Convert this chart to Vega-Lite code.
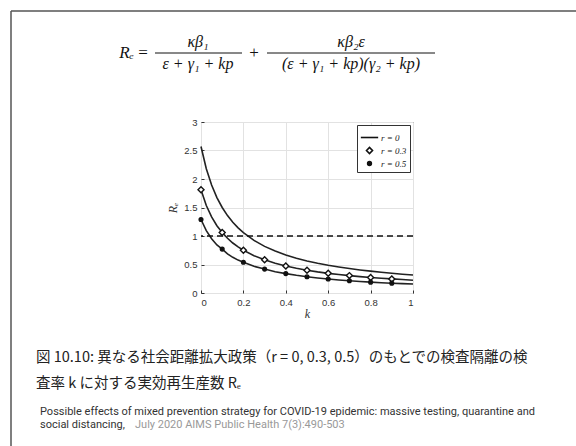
{
  "$schema": "https://vega.github.io/schema/vega-lite/v6.json",
  "autosize": {"type": "none"},
  "padding": {"left": 201, "top": 122, "right": 163, "bottom": 153},
  "width": 212,
  "height": 171,
  "background": "white",
  "config": {
    "view": {"stroke": "#333", "strokeWidth": 1},
    "axis": {
      "labelFont": "Liberation Sans", "labelFontSize": 9.5, "labelColor": "#333", "labelOverlap": false, "format": "~g",
      "domain": false, "tickColor": "#333", "gridColor": "#e2e2e2", "gridWidth": 1,
      "titleFont": "Liberation Serif", "titleFontStyle": "italic", "titleFontWeight": "normal", "titleFontSize": 12, "titleColor": "#333"
    }
  },
  "datasets": {
    "curves": [
      {"k": 0, "Re": 2.57, "r": "0"}, {"k": 0.025, "Re": 2.18, "r": "0"}, {"k": 0.05, "Re": 1.895, "r": "0"}, {"k": 0.075, "Re": 1.674, "r": "0"},
      {"k": 0.1, "Re": 1.5, "r": "0"}, {"k": 0.125, "Re": 1.358, "r": "0"}, {"k": 0.15, "Re": 1.241, "r": "0"}, {"k": 0.175, "Re": 1.143, "r": "0"},
      {"k": 0.2, "Re": 1.059, "r": "0"}, {"k": 0.25, "Re": 0.923, "r": "0"}, {"k": 0.3, "Re": 0.818, "r": "0"}, {"k": 0.35, "Re": 0.735, "r": "0"},
      {"k": 0.4, "Re": 0.667, "r": "0"}, {"k": 0.45, "Re": 0.61, "r": "0"}, {"k": 0.5, "Re": 0.5625, "r": "0"}, {"k": 0.55, "Re": 0.522, "r": "0"},
      {"k": 0.6, "Re": 0.486, "r": "0"}, {"k": 0.65, "Re": 0.456, "r": "0"}, {"k": 0.7, "Re": 0.429, "r": "0"}, {"k": 0.75, "Re": 0.404, "r": "0"},
      {"k": 0.8, "Re": 0.383, "r": "0"}, {"k": 0.85, "Re": 0.364, "r": "0"}, {"k": 0.9, "Re": 0.346, "r": "0"}, {"k": 0.95, "Re": 0.33, "r": "0"},
      {"k": 1, "Re": 0.316, "r": "0"},
      {"k": 0, "Re": 1.81, "r": "0.3"}, {"k": 0.025, "Re": 1.535, "r": "0.3"}, {"k": 0.05, "Re": 1.335, "r": "0.3"}, {"k": 0.075, "Re": 1.18, "r": "0.3"},
      {"k": 0.1, "Re": 1.06, "r": "0.3"}, {"k": 0.125, "Re": 0.96, "r": "0.3"}, {"k": 0.15, "Re": 0.877, "r": "0.3"}, {"k": 0.175, "Re": 0.808, "r": "0.3"},
      {"k": 0.2, "Re": 0.75, "r": "0.3"}, {"k": 0.25, "Re": 0.655, "r": "0.3"}, {"k": 0.3, "Re": 0.585, "r": "0.3"}, {"k": 0.35, "Re": 0.523, "r": "0.3"},
      {"k": 0.4, "Re": 0.475, "r": "0.3"}, {"k": 0.45, "Re": 0.434, "r": "0.3"}, {"k": 0.5, "Re": 0.4, "r": "0.3"}, {"k": 0.55, "Re": 0.37, "r": "0.3"},
      {"k": 0.6, "Re": 0.345, "r": "0.3"}, {"k": 0.65, "Re": 0.324, "r": "0.3"}, {"k": 0.7, "Re": 0.305, "r": "0.3"}, {"k": 0.75, "Re": 0.288, "r": "0.3"},
      {"k": 0.8, "Re": 0.272, "r": "0.3"}, {"k": 0.85, "Re": 0.259, "r": "0.3"}, {"k": 0.9, "Re": 0.247, "r": "0.3"}, {"k": 0.95, "Re": 0.236, "r": "0.3"},
      {"k": 1, "Re": 0.225, "r": "0.3"},
      {"k": 0, "Re": 1.29, "r": "0.5"}, {"k": 0.025, "Re": 1.095, "r": "0.5"}, {"k": 0.05, "Re": 0.952, "r": "0.5"}, {"k": 0.075, "Re": 0.843, "r": "0.5"},
      {"k": 0.1, "Re": 0.77, "r": "0.5"}, {"k": 0.125, "Re": 0.685, "r": "0.5"}, {"k": 0.15, "Re": 0.626, "r": "0.5"}, {"k": 0.175, "Re": 0.577, "r": "0.5"},
      {"k": 0.2, "Re": 0.54, "r": "0.5"}, {"k": 0.25, "Re": 0.468, "r": "0.5"}, {"k": 0.3, "Re": 0.42, "r": "0.5"}, {"k": 0.35, "Re": 0.372, "r": "0.5"},
      {"k": 0.4, "Re": 0.34, "r": "0.5"}, {"k": 0.45, "Re": 0.31, "r": "0.5"}, {"k": 0.5, "Re": 0.285, "r": "0.5"}, {"k": 0.55, "Re": 0.263, "r": "0.5"},
      {"k": 0.6, "Re": 0.245, "r": "0.5"}, {"k": 0.65, "Re": 0.229, "r": "0.5"}, {"k": 0.7, "Re": 0.215, "r": "0.5"}, {"k": 0.75, "Re": 0.202, "r": "0.5"},
      {"k": 0.8, "Re": 0.19, "r": "0.5"}, {"k": 0.85, "Re": 0.18, "r": "0.5"}, {"k": 0.9, "Re": 0.172, "r": "0.5"}, {"k": 0.95, "Re": 0.165, "r": "0.5"},
      {"k": 1, "Re": 0.158, "r": "0.5"}
    ],
    "markers": [
      {"k": 0, "Re": 1.81, "r": "0.3"}, {"k": 0.1, "Re": 1.06, "r": "0.3"}, {"k": 0.2, "Re": 0.75, "r": "0.3"}, {"k": 0.3, "Re": 0.585, "r": "0.3"},
      {"k": 0.4, "Re": 0.475, "r": "0.3"}, {"k": 0.5, "Re": 0.4, "r": "0.3"}, {"k": 0.6, "Re": 0.345, "r": "0.3"}, {"k": 0.7, "Re": 0.305, "r": "0.3"},
      {"k": 0.8, "Re": 0.272, "r": "0.3"}, {"k": 0.9, "Re": 0.247, "r": "0.3"},
      {"k": 0, "Re": 1.29, "r": "0.5"}, {"k": 0.1, "Re": 0.77, "r": "0.5"}, {"k": 0.2, "Re": 0.54, "r": "0.5"}, {"k": 0.3, "Re": 0.42, "r": "0.5"},
      {"k": 0.4, "Re": 0.34, "r": "0.5"}, {"k": 0.5, "Re": 0.285, "r": "0.5"}, {"k": 0.6, "Re": 0.245, "r": "0.5"}, {"k": 0.7, "Re": 0.215, "r": "0.5"},
      {"k": 0.8, "Re": 0.19, "r": "0.5"}, {"k": 0.9, "Re": 0.172, "r": "0.5"}
    ]
  },
  "resolve": {"scale": {"x": "independent", "y": "independent"}},
  "layer": [
    {
      "encoding": {
        "x": {"type": "quantitative", "scale": {"domain": [0, 1], "nice": false},
              "axis": {"values": [0, 0.2, 0.4, 0.6, 0.8, 1], "title": "k", "tickSize": -3, "labelPadding": 7, "titlePadding": 2}},
        "y": {"type": "quantitative", "scale": {"domain": [0, 3], "nice": false},
              "axis": {"values": [0, 0.5, 1, 1.5, 2, 2.5, 3], "tickCount": 7, "title": "Rₑ", "tickSize": -3, "labelPadding": 7, "titlePadding": 4}}
      },
      "layer": [
        {
          "data": {"name": "curves"},
          "mark": {"type": "line", "stroke": "#222", "strokeWidth": 1.6},
          "encoding": {
            "x": {"field": "k"},
            "y": {"field": "Re"},
            "detail": {"field": "r"}
          }
        },
        {
          "data": {"values": [{"level": 1}]},
          "mark": {"type": "rule", "stroke": "#111", "strokeWidth": 1.6, "strokeDash": [6, 4]},
          "encoding": {"y": {"field": "level"}}
        },
        {
          "data": {"name": "markers"},
          "mark": {"type": "point", "filled": true, "stroke": "#111", "strokeWidth": 1.4, "opacity": 1},
          "encoding": {
            "x": {"field": "k"},
            "y": {"field": "Re"},
            "shape": {"field": "r", "type": "nominal", "scale": {"domain": ["0", "0.3", "0.5"], "range": ["stroke", "diamond", "circle"]},
                      "legend": {"orient": "top-right", "offset": 3, "title": null, "labelExpr": "'r = ' + datum.label",
                                 "labelFont": "Liberation Serif", "labelFontStyle": "italic", "labelFontSize": 9, "labelColor": "#222",
                                 "strokeColor": "#333", "fillColor": "white", "padding": 3, "rowPadding": 1,
                                 "symbolStrokeColor": "#111", "symbolStrokeWidth": 1.6, "labelOffset": 2}},
            "fill": {"field": "r", "type": "nominal", "scale": {"domain": ["0", "0.3", "0.5"], "range": ["#111", "white", "#111"]}},
            "size": {"field": "r", "type": "nominal", "scale": {"type": "ordinal", "domain": ["0", "0.3", "0.5"], "range": [300, 36, 14]}}
          }
        }
      ]
    },
    {
      "layer": [
        {
          "data": {"values": [{}]},
          "mark": {"type": "rule", "stroke": "#555", "strokeWidth": 1.5},
          "encoding": {
            "x": {"datum": 11, "scale": {"domain": [0, 576], "range": [-201, 375], "nice": false, "zero": false}, "axis": null},
            "y": {"datum": 11, "scale": {"domain": [0, 446], "range": [-122, 324], "nice": false, "zero": false}, "axis": null},
            "y2": {"datum": 446}
          }
        },
        {
          "data": {"values": [{}]},
          "mark": {"type": "rule", "stroke": "#555", "strokeWidth": 1.5},
          "encoding": {
            "x": {"datum": 11, "axis": null}, "x2": {"datum": 576},
            "y": {"datum": 11, "axis": null}
          }
        },
        {
          "data": {"values": [{}]},
          "mark": {"type": "text", "text": "Rₑ", "font": "Liberation Serif", "fontStyle": "italic", "fontSize": 17, "align": "right", "baseline": "middle", "color": "#111"},
          "encoding": {"x": {"datum": 134, "axis": null}, "y": {"datum": 53, "axis": null}}
        },
        {
          "data": {"values": [{}]},
          "mark": {"type": "text", "text": "=", "font": "Liberation Serif", "fontSize": 17, "align": "center", "baseline": "middle", "color": "#111"},
          "encoding": {"x": {"datum": 143, "axis": null}, "y": {"datum": 53, "axis": null}}
        },
        {
          "data": {"values": [{}]},
          "mark": {"type": "text", "text": "κβ₁", "font": "Liberation Serif", "fontStyle": "italic", "fontSize": 16, "align": "center", "baseline": "middle", "color": "#111"},
          "encoding": {"x": {"datum": 198, "axis": null}, "y": {"datum": 42, "axis": null}}
        },
        {
          "data": {"values": [{}]},
          "mark": {"type": "rule", "stroke": "#111", "strokeWidth": 1},
          "encoding": {"x": {"datum": 155, "axis": null}, "x2": {"datum": 242}, "y": {"datum": 53, "axis": null}}
        },
        {
          "data": {"values": [{}]},
          "mark": {"type": "text", "text": "ε + γ₁ + kp", "font": "Liberation Serif", "fontStyle": "italic", "fontSize": 16, "align": "center", "baseline": "middle", "color": "#111"},
          "encoding": {"x": {"datum": 198, "axis": null}, "y": {"datum": 64, "axis": null}}
        },
        {
          "data": {"values": [{}]},
          "mark": {"type": "text", "text": "+", "font": "Liberation Serif", "fontSize": 17, "align": "center", "baseline": "middle", "color": "#111"},
          "encoding": {"x": {"datum": 254, "axis": null}, "y": {"datum": 53, "axis": null}}
        },
        {
          "data": {"values": [{}]},
          "mark": {"type": "text", "text": "κβ₂ε", "font": "Liberation Serif", "fontStyle": "italic", "fontSize": 16, "align": "center", "baseline": "middle", "color": "#111"},
          "encoding": {"x": {"datum": 351, "axis": null}, "y": {"datum": 42, "axis": null}}
        },
        {
          "data": {"values": [{}]},
          "mark": {"type": "rule", "stroke": "#111", "strokeWidth": 1},
          "encoding": {"x": {"datum": 267, "axis": null}, "x2": {"datum": 435}, "y": {"datum": 53, "axis": null}}
        },
        {
          "data": {"values": [{}]},
          "mark": {"type": "text", "text": "(ε + γ₁ + kp)(γ₂ + kp)", "font": "Liberation Serif", "fontStyle": "italic", "fontSize": 16, "align": "center", "baseline": "middle", "color": "#111"},
          "encoding": {"x": {"datum": 351, "axis": null}, "y": {"datum": 64, "axis": null}}
        },
        {
          "data": {"values": [{}]},
          "mark": {"type": "text", "text": "図 10.10: 異なる社会距離拡大政策（r = 0, 0.3, 0.5）のもとでの検査隔離の検", "font": "Noto Sans CJK JP", "fontSize": 14.5, "align": "left", "baseline": "middle", "color": "#222"},
          "encoding": {"x": {"datum": 36, "axis": null}, "y": {"datum": 358, "axis": null}}
        },
        {
          "data": {"values": [{}]},
          "mark": {"type": "text", "text": "査率 k に対する実効再生産数 Rₑ", "font": "Noto Sans CJK JP", "fontSize": 14.5, "align": "left", "baseline": "middle", "color": "#222"},
          "encoding": {"x": {"datum": 36, "axis": null}, "y": {"datum": 384, "axis": null}}
        },
        {
          "data": {"values": [{}]},
          "mark": {"type": "text", "text": "Possible effects of mixed prevention strategy for COVID-19 epidemic: massive testing, quarantine and", "font": "Roboto", "fontSize": 11, "align": "left", "baseline": "middle", "color": "#333"},
          "encoding": {"x": {"datum": 40, "axis": null}, "y": {"datum": 412, "axis": null}}
        },
        {
          "data": {"values": [{}]},
          "mark": {"type": "text", "text": "social distancing,", "font": "Roboto", "fontSize": 11, "align": "left", "baseline": "middle", "color": "#333"},
          "encoding": {"x": {"datum": 40, "axis": null}, "y": {"datum": 425, "axis": null}}
        },
        {
          "data": {"values": [{}]},
          "mark": {"type": "text", "text": "July 2020 AIMS Public Health 7(3):490-503", "font": "Roboto", "fontSize": 11, "align": "left", "baseline": "middle", "color": "#999"},
          "encoding": {"x": {"datum": 135, "axis": null}, "y": {"datum": 425, "axis": null}}
        }
      ]
    }
  ]
}
